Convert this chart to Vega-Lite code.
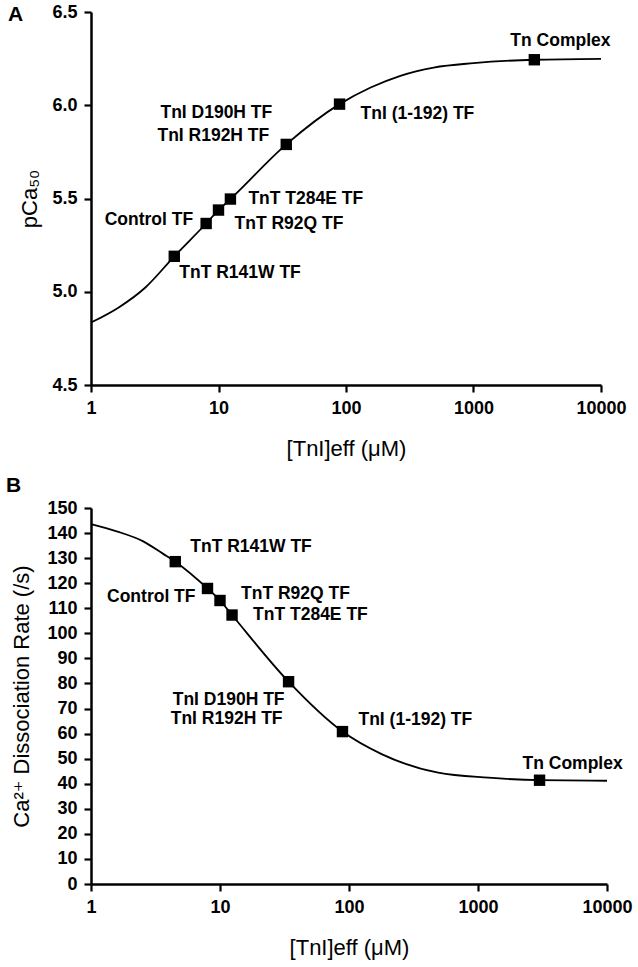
{
  "$schema": "https://vega.github.io/schema/vega-lite/v6.json",
  "padding": {"left": 6, "top": 3, "right": 5, "bottom": 5},
  "background": "white",
  "spacing": 16,
  "config": {
    "font": "Liberation Sans, Arial, DejaVu Sans, sans-serif",
    "view": {"stroke": null},
    "axis": {
      "grid": false,
      "domainColor": "black", "domainWidth": 2.5,
      "tickColor": "black", "tickWidth": 2.2, "tickSize": 7,
      "labelFont": "Liberation Sans, Arial, sans-serif", "labelFontSize": 18, "labelFontWeight": "bold", "labelColor": "black", "labelPadding": 7,
      "titleFont": "Liberation Sans, Arial, DejaVu Sans, sans-serif", "titleFontSize": 22, "titleFontWeight": "normal", "titleColor": "black"
    },
    "axisX": {"titlePadding": 21, "labelFlush": false},
    "text": {"font": "Liberation Sans, Arial, sans-serif", "fontSize": 17.5, "fontWeight": "bold", "color": "black"},
    "title": {"font": "Liberation Sans, Arial, sans-serif", "fontSize": 21, "fontWeight": "bold", "color": "black"}
  },
  "datasets": {
    "points": [
      {"name": "TnT R141W TF", "conc": 4.5, "pCa": 5.19, "rate": 128.6},
      {"name": "Control TF", "conc": 8.0, "pCa": 5.366, "rate": 117.9},
      {"name": "TnT R92Q TF", "conc": 10.0, "pCa": 5.438, "rate": 113.1},
      {"name": "TnT T284E TF", "conc": 12.4, "pCa": 5.497, "rate": 107.3},
      {"name": "TnI D190H TF / TnI R192H TF", "conc": 34, "pCa": 5.79, "rate": 80.7},
      {"name": "TnI (1-192) TF", "conc": 89, "pCa": 6.006, "rate": 60.8},
      {"name": "Tn Complex", "conc": 3000, "pCa": 6.244, "rate": 41.4}
    ],
    "curveA": [
      {"conc": 1, "pCa": 4.835},
      {"conc": 1.65, "pCa": 4.916},
      {"conc": 2.67, "pCa": 5.023},
      {"conc": 4.5, "pCa": 5.19},
      {"conc": 8.0, "pCa": 5.366},
      {"conc": 10.0, "pCa": 5.438},
      {"conc": 12.4, "pCa": 5.497},
      {"conc": 34, "pCa": 5.79},
      {"conc": 89, "pCa": 6.006},
      {"conc": 156, "pCa": 6.095},
      {"conc": 267, "pCa": 6.158},
      {"conc": 487, "pCa": 6.202},
      {"conc": 1000, "pCa": 6.226},
      {"conc": 3000, "pCa": 6.244},
      {"conc": 10000, "pCa": 6.249}
    ],
    "curveB": [
      {"conc": 1, "rate": 143.6},
      {"conc": 1.58, "rate": 140.7},
      {"conc": 2.54, "rate": 136.7},
      {"conc": 3.63, "rate": 131.7},
      {"conc": 4.5, "rate": 128.6},
      {"conc": 8.0, "rate": 117.9},
      {"conc": 10.0, "rate": 113.1},
      {"conc": 12.4, "rate": 107.3},
      {"conc": 34, "rate": 80.7},
      {"conc": 89, "rate": 60.8},
      {"conc": 179, "rate": 51.8},
      {"conc": 491, "rate": 44.4},
      {"conc": 1205, "rate": 42.4},
      {"conc": 3000, "rate": 41.4},
      {"conc": 10000, "rate": 41.2}
    ]
  },
  "vconcat": [
    {
      "width": 510,
      "height": 373,
      "title": {"text": "A", "anchor": "start", "frame": "group", "dx": -83, "offset": -22},
      "encoding": {
        "x": {"field": "conc", "type": "quantitative", "scale": {"type": "log", "domain": [1, 10000], "nice": false},
              "axis": {"values": [1, 10, 100, 1000, 10000], "format": "d", "title": "[TnI]eff (μM)"}},
        "y": {"field": "pCa", "type": "quantitative", "scale": {"domain": [4.5, 6.5], "nice": false, "zero": false},
              "axis": {"values": [4.5, 5, 5.5, 6, 6.5], "format": ".1f", "title": "pCa₅₀", "titlePadding": 10}}
      },
      "layer": [
        {"data": {"name": "curveA"}, "mark": {"type": "line", "color": "black", "strokeWidth": 1.8, "interpolate": "monotone"}, "encoding": {}},
        {"data": {"name": "points"}, "mark": {"type": "square", "color": "black", "size": 130, "opacity": 1}},
        {"data": {"name": "points"}, "transform": [{"filter": "datum.name === 'Tn Complex'"}],
         "mark": {"type": "text", "align": "left", "dx": -24, "dy": -19}, "encoding": {"text": {"field": "name"}}},
        {"data": {"name": "points"}, "transform": [{"filter": "datum.name === 'TnI (1-192) TF'"}],
         "mark": {"type": "text", "align": "left", "dx": 21, "dy": 10}, "encoding": {"text": {"field": "name"}}},
        {"data": {"name": "points"}, "transform": [{"filter": "datum.name === 'TnI D190H TF / TnI R192H TF'"}],
         "mark": {"type": "text", "align": "right", "dx": -14, "dy": -31}, "encoding": {"text": {"value": "TnI D190H TF"}}},
        {"data": {"name": "points"}, "transform": [{"filter": "datum.name === 'TnI D190H TF / TnI R192H TF'"}],
         "mark": {"type": "text", "align": "right", "dx": -17, "dy": -8}, "encoding": {"text": {"value": "TnI R192H TF"}}},
        {"data": {"name": "points"}, "transform": [{"filter": "datum.name === 'TnT T284E TF'"}],
         "mark": {"type": "text", "align": "left", "dx": 18, "dy": 0}, "encoding": {"text": {"field": "name"}}},
        {"data": {"name": "points"}, "transform": [{"filter": "datum.name === 'TnT R92Q TF'"}],
         "mark": {"type": "text", "align": "left", "dx": 16, "dy": 14}, "encoding": {"text": {"field": "name"}}},
        {"data": {"name": "points"}, "transform": [{"filter": "datum.name === 'Control TF'"}],
         "mark": {"type": "text", "align": "right", "dx": -13, "dy": -3}, "encoding": {"text": {"field": "name"}}},
        {"data": {"name": "points"}, "transform": [{"filter": "datum.name === 'TnT R141W TF'"}],
         "mark": {"type": "text", "align": "left", "dx": 5, "dy": 17}, "encoding": {"text": {"field": "name"}}}
      ]
    },
    {
      "width": 516,
      "height": 376,
      "title": {"text": "B", "anchor": "start", "frame": "group", "dx": -85, "offset": 3},
      "encoding": {
        "x": {"field": "conc", "type": "quantitative", "scale": {"type": "log", "domain": [1, 10000], "nice": false},
              "axis": {"values": [1, 10, 100, 1000, 10000], "format": "d", "title": "[TnI]eff (μM)"}},
        "y": {"field": "rate", "type": "quantitative", "scale": {"domain": [0, 150], "nice": false},
              "axis": {"values": [0, 10, 20, 30, 40, 50, 60, 70, 80, 90, 100, 110, 120, 130, 140, 150], "title": "Ca²⁺ Dissociation Rate (/s)", "titlePadding": 13}}
      },
      "layer": [
        {"data": {"name": "curveB"}, "mark": {"type": "line", "color": "black", "strokeWidth": 1.8, "interpolate": "monotone"}, "encoding": {}},
        {"data": {"name": "points"}, "mark": {"type": "square", "color": "black", "size": 130, "opacity": 1}},
        {"data": {"name": "points"}, "transform": [{"filter": "datum.name === 'TnT R141W TF'"}],
         "mark": {"type": "text", "align": "left", "dx": 15, "dy": -15}, "encoding": {"text": {"field": "name"}}},
        {"data": {"name": "points"}, "transform": [{"filter": "datum.name === 'Control TF'"}],
         "mark": {"type": "text", "align": "right", "dx": -12, "dy": 9}, "encoding": {"text": {"field": "name"}}},
        {"data": {"name": "points"}, "transform": [{"filter": "datum.name === 'TnT R92Q TF'"}],
         "mark": {"type": "text", "align": "left", "dx": 21, "dy": -6}, "encoding": {"text": {"field": "name"}}},
        {"data": {"name": "points"}, "transform": [{"filter": "datum.name === 'TnT T284E TF'"}],
         "mark": {"type": "text", "align": "left", "dx": 21, "dy": 0}, "encoding": {"text": {"field": "name"}}},
        {"data": {"name": "points"}, "transform": [{"filter": "datum.name === 'TnI D190H TF / TnI R192H TF'"}],
         "mark": {"type": "text", "align": "right", "dx": -4, "dy": 18}, "encoding": {"text": {"value": "TnI D190H TF"}}},
        {"data": {"name": "points"}, "transform": [{"filter": "datum.name === 'TnI D190H TF / TnI R192H TF'"}],
         "mark": {"type": "text", "align": "right", "dx": -6, "dy": 37}, "encoding": {"text": {"value": "TnI R192H TF"}}},
        {"data": {"name": "points"}, "transform": [{"filter": "datum.name === 'TnI (1-192) TF'"}],
         "mark": {"type": "text", "align": "left", "dx": 16, "dy": -12}, "encoding": {"text": {"field": "name"}}},
        {"data": {"name": "points"}, "transform": [{"filter": "datum.name === 'Tn Complex'"}],
         "mark": {"type": "text", "align": "left", "dx": -17, "dy": -16}, "encoding": {"text": {"field": "name"}}}
      ]
    }
  ]
}
